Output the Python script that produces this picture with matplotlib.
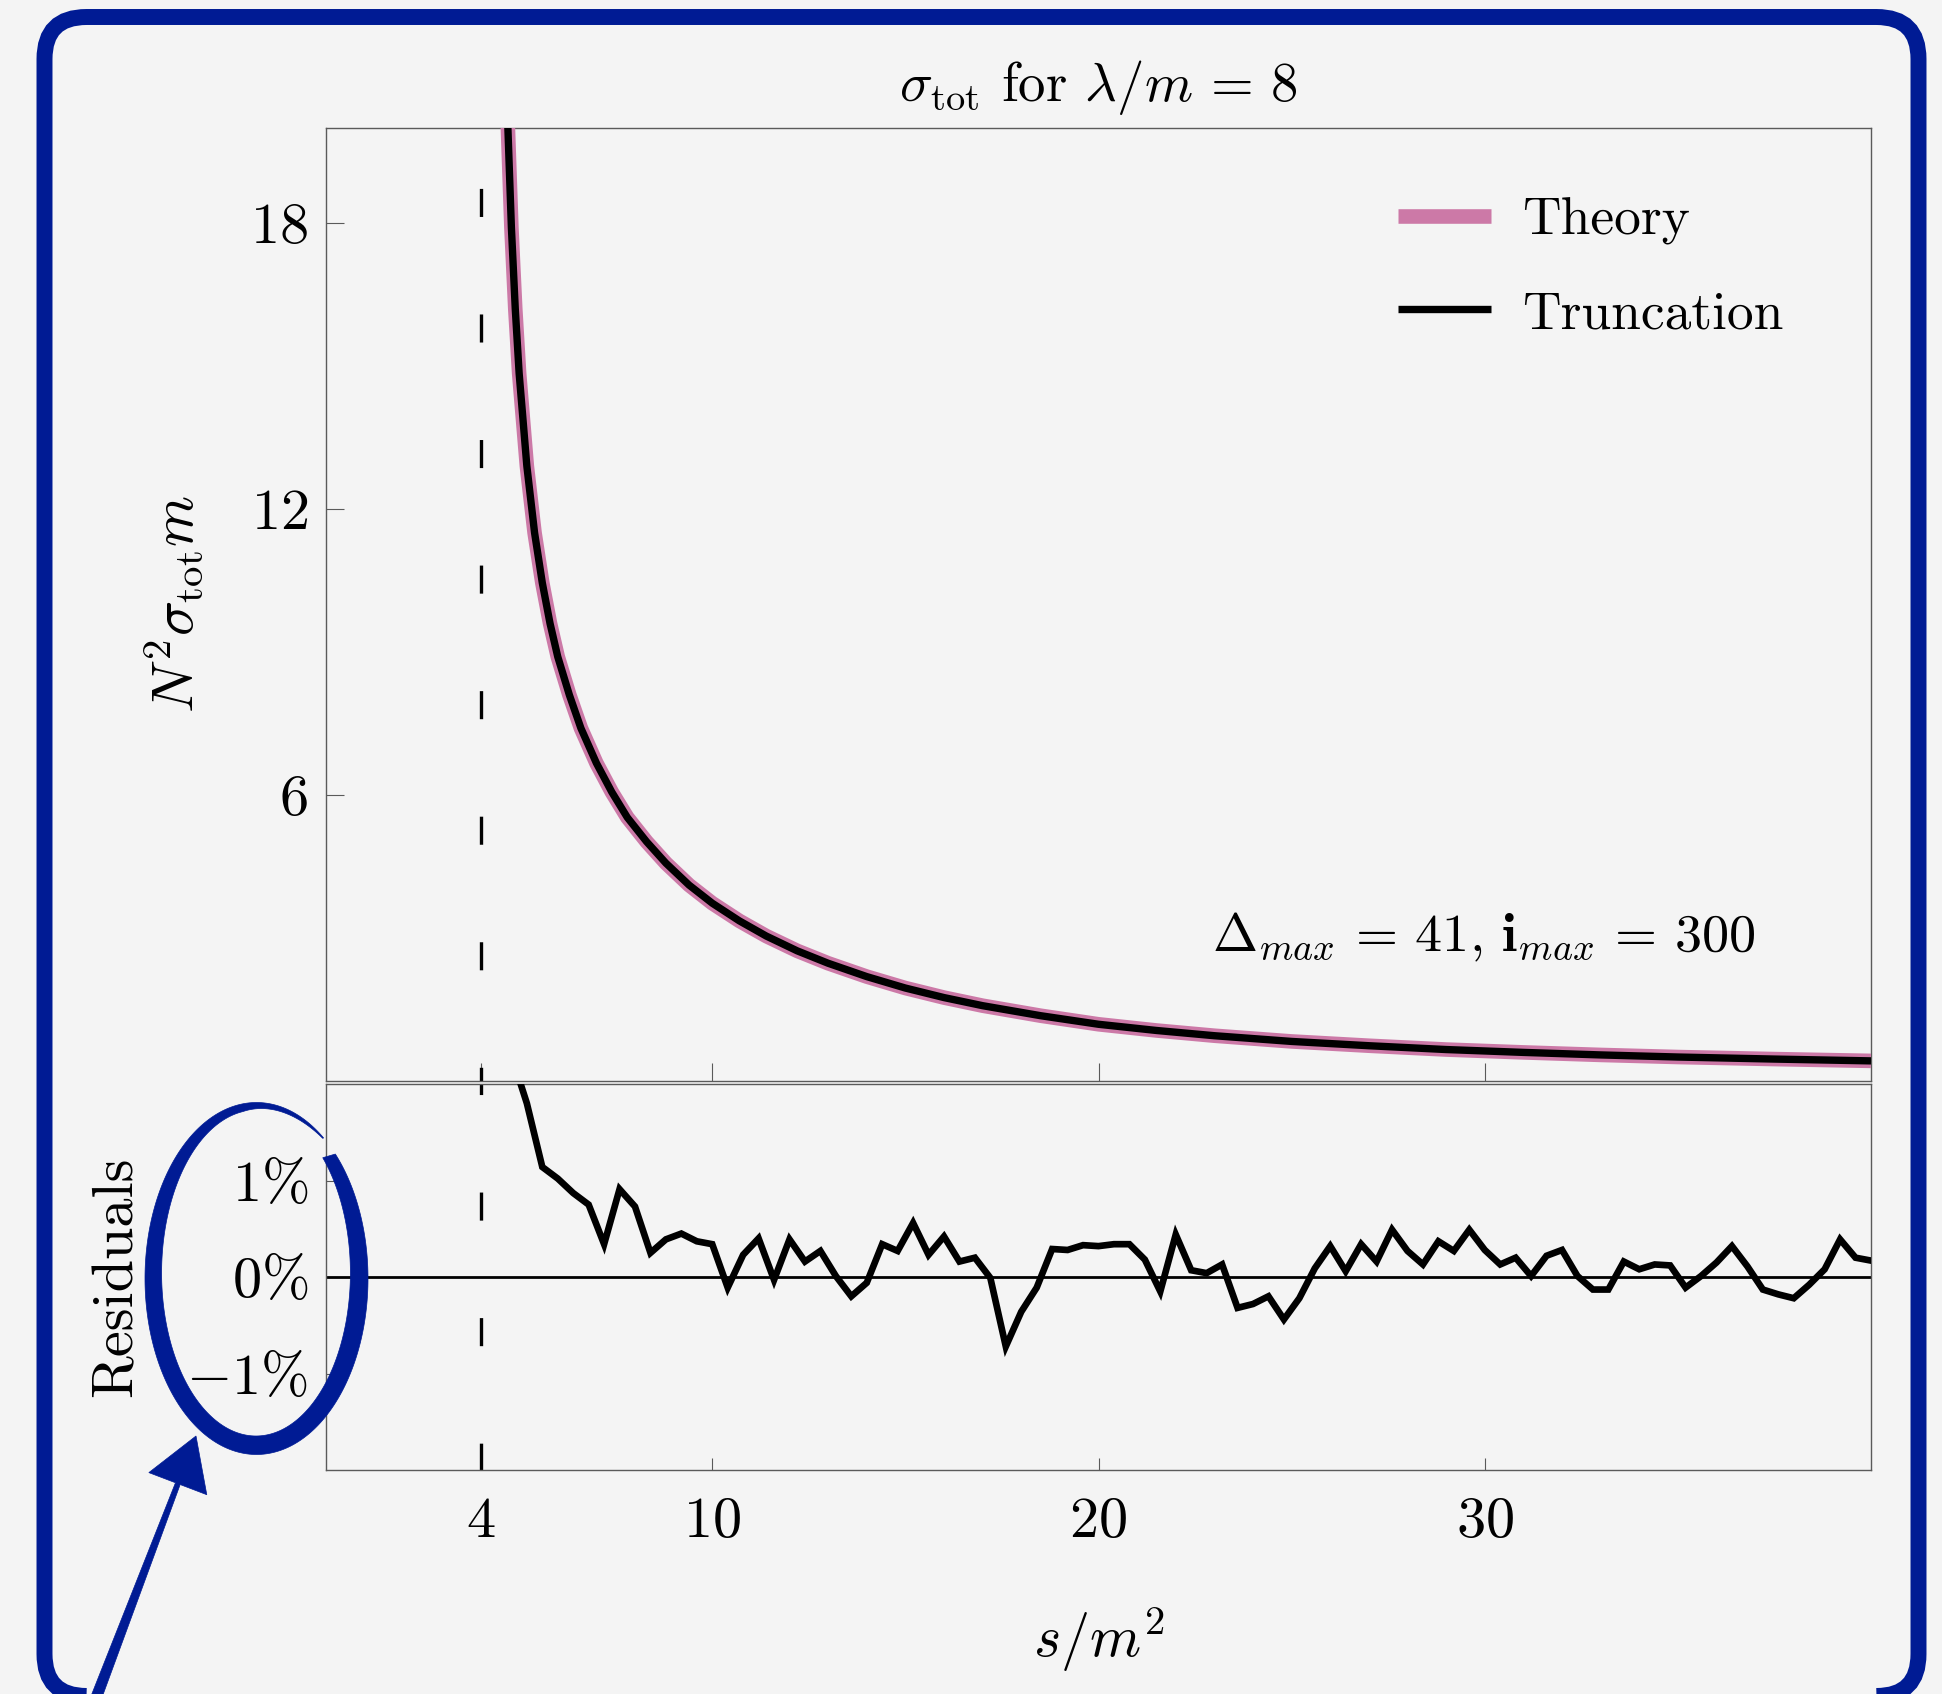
import numpy as np
import matplotlib
matplotlib.use("Agg")
import matplotlib.pyplot as plt
from matplotlib.patches import FancyBboxPatch, Polygon

plt.rcParams['font.family'] = ['cmr10', 'DejaVu Serif']
plt.rcParams['mathtext.fontset'] = 'cm'
plt.rcParams['axes.unicode_minus'] = False
plt.rcParams['axes.formatter.use_mathtext'] = True
plt.rcParams['lines.scale_dashes'] = False

# ---------------- data ----------------
theory_s = [4.6, 4.7, 4.8, 4.9, 5.0, 5.2, 5.4, 5.6, 5.8, 6.0, 6.3, 6.6, 7.0,
            7.4, 7.8, 8.3, 8.8, 9.4, 10.0, 10.7, 11.4, 12.2, 13.0, 14.0, 15.0,
            16.0, 17.0, 18.5, 20.0, 21.5, 23.0, 25.0, 27.0, 29.0, 31.0, 33.0,
            35.0, 37.5, 40.0]
theory_v = [23.3, 20.2, 17.9, 16.2, 14.85, 12.9, 11.5, 10.45, 9.6, 8.9, 8.1,
            7.4, 6.67, 6.06, 5.53, 5.02, 4.57, 4.11, 3.73, 3.36, 3.04, 2.73,
            2.47, 2.19, 1.95, 1.75, 1.58, 1.37, 1.19, 1.06, 0.95, 0.83, 0.74,
            0.66, 0.60, 0.547, 0.503, 0.460, 0.422]
# truncation coincides with theory within the line width in the upper panel
trunc_s = theory_s
trunc_v = theory_v

res_s = np.round(np.arange(4.8, 40.01, 0.4), 1)
res_pct = [2.3, 1.80, 1.14, 1.02, 0.87, 0.75, 0.34, 0.91, 0.73, 0.25, 0.39, 0.45,
           0.37, 0.34,
           -0.11, 0.23, 0.40, -0.03, 0.39, 0.16, 0.27, 0.01, -0.20, -0.06, 0.34,
           0.27, 0.56, 0.23, 0.42, 0.16, 0.20, -0.01, -0.72, -0.36, -0.11, 0.29,
           0.28, 0.33, 0.32,
           0.34, 0.34, 0.18, -0.15, 0.44, 0.07, 0.04, 0.13, -0.32, -0.28, -0.20,
           -0.44, -0.22, 0.09, 0.32, 0.06, 0.34, 0.16, 0.49, 0.27, 0.13, 0.37,
           0.27, 0.49, 0.28,
           0.13, 0.20, 0.01, 0.22, 0.28, 0.01, -0.13, -0.13, 0.16, 0.08, 0.13,
           0.12, -0.11, 0.01, 0.15, 0.32, 0.11, -0.13, -0.18, -0.22, -0.08,
           0.08, 0.39, 0.20, 0.17]

threshold = 4
top_yticks = [6, 12, 18]
res_yticks = [-1, 0, 1]
res_ylabels = [r'$-1\%$', r'$0\%$', r'$1\%$']
xticks = [4, 10, 20, 30]
xticklabels = [r'$4$', r'$10$', r'$20$', r'$30$']

# ---------------- styling ----------------
BG = '#f4f4f4'
PINK = '#cc79a7'
BLUE = '#001b94'
SPINE = '#5a5a5a'

W, H, DPI = 1942, 1694, 100
fig = plt.figure(figsize=(W / DPI, H / DPI), dpi=DPI, facecolor=BG)


def ax_rect(left, right, top, bottom):
    return [left / W, (H - bottom) / H, (right - left) / W, (bottom - top) / H]


ax1 = fig.add_axes(ax_rect(326, 1871, 127.6, 1081))
ax2 = fig.add_axes(ax_rect(326, 1871, 1084, 1470))

for ax in (ax1, ax2):
    ax.set_facecolor(BG)
    for sp in ax.spines.values():
        sp.set_color(SPINE)
        sp.set_linewidth(1.0)
    ax.set_xlim(0, 40)

# upper panel
ax1.set_ylim(0, 20)
l_th, = ax1.plot(theory_s, theory_v, color=PINK, lw=10.5, solid_capstyle='butt',
                 label='Theory', zorder=3)
l_tr, = ax1.plot(trunc_s, trunc_v, color='black', lw=5.3, solid_capstyle='butt',
                 label='Truncation', zorder=4)
ax1.plot([threshold, threshold], [20, 0], color='black', lw=2.4,
         linestyle=(46.9, (20.2, 70.2)), zorder=2)
ax1.set_yticks(top_yticks)
ax1.set_yticklabels([r'$%d$' % t for t in top_yticks])
ax1.set_xticks(xticks)
ax1.set_xticklabels([])
ax1.tick_params(axis='both', direction='in', length=13, width=0.8, color=SPINE,
                labelsize=42, pad=13, top=False, right=False)
ax1.set_title(r'$\sigma_{\mathrm{tot}}$ for $\lambda/m\,=\,8$', fontsize=39.5, pad=19)
ax1.set_ylabel(r'$N^2\sigma_{\mathrm{tot}}m$', fontsize=42)
ax1.yaxis.set_label_coords(-0.078, 0.5)
ax1.text(37.0, 2.71, r'$\Delta_{max}\,=\,41,\, \mathbf{i}_{max}\,=\,300$',
         fontsize=39, ha='right', va='baseline')
ax1.legend(handles=[l_th, l_tr], loc='upper left', bbox_to_anchor=(0.6939, 0.927),
           frameon=False, fontsize=38.5, handlelength=1.74, handletextpad=0.58,
           labelspacing=0.85, borderpad=0, borderaxespad=0)

# lower panel
ax2.set_ylim(-2, 2)
ax2.axhline(0, color='black', lw=2, zorder=2)
ax2.plot(res_s, res_pct, color='black', lw=4.8, solid_joinstyle='miter', zorder=4)
ax2.plot([threshold, threshold], [2, -2], color='black', lw=2.4,
         linestyle=(12.6, (20.2, 70.2)), zorder=2)
ax2.set_yticks(res_yticks)
ax2.set_yticklabels(res_ylabels)
ax2.set_xticks(xticks)
ax2.set_xticklabels(xticklabels)
ax2.tick_params(axis='both', direction='in', length=8.6, width=0.8, color=SPINE,
                labelsize=42, top=False, right=False)
ax2.tick_params(axis='y', pad=13)
ax2.tick_params(axis='x', pad=19)
ax2.set_ylabel('Residuals', fontsize=42)
ax2.yaxis.set_label_coords(-0.119, 0.5)
ax2.set_xlabel(r'$s/m^2$', fontsize=42)
ax2.xaxis.set_label_coords(0.5, -0.352)

# ---------------- hand-drawn annotations (pixel layout) ----------------
T = fig.dpi_scale_trans


def px(x, y):
    return (x / DPI, (H - y) / DPI)


# rounded frame
x0, y0 = px(44.5, 1696)
x1, y1 = px(1918.5, 17)
frame = FancyBboxPatch((x0, y0), x1 - x0, y1 - y0,
                       boxstyle='round,pad=0,rounding_size=0.42',
                       linewidth=11.5, edgecolor=BLUE, facecolor='none',
                       transform=T, zorder=10)
fig.add_artist(frame)

# ellipse stroke around the residual tick labels
t = np.radians(np.linspace(45, 45 - 352, 400))
taper = np.clip((t - np.radians(45 - 352)) / np.radians(45), 0, 1)
cxo, cyo, ao, bo = 256.5, 1278.5, 111.5, 176.0
cxi, cyi, ai, bi = 256.0, 1273.0, 94.4, 163.0
ox = cxo + ao * np.cos(t)
oy = cyo - bo * np.sin(t)
ix = cxi + ai * np.cos(t)
iy = cyi - bi * np.sin(t)
ix = ox + (ix - ox) * (0.08 + 0.92 * taper)
iy = oy + (iy - oy) * (0.08 + 0.92 * taper)
xs = np.concatenate([ox, ix[::-1]])
ys = np.concatenate([oy, iy[::-1]])
verts = [px(a, b) for a, b in zip(xs, ys)]
ell = Polygon(verts, closed=True, facecolor=BLUE, edgecolor=BLUE, lw=0.5,
              transform=T, zorder=11)
fig.add_artist(ell)

# arrow
S = np.array(px(93, 1706))
Tp = np.array(px(196, 1436))
u = (Tp - S) / np.linalg.norm(Tp - S)
n = np.array([-u[1], u[0]])
head_len, head_w = 0.51, 0.62
w0, w1 = 0.11, 0.05
B = Tp - u * head_len
arrow_pts = [S + n * w0 / 2, B + n * w1 / 2, B + n * head_w / 2,
             Tp, B - n * head_w / 2, B - n * w1 / 2, S - n * w0 / 2]
arrow = Polygon(arrow_pts, closed=True, facecolor=BLUE, edgecolor=BLUE, lw=0.5,
                transform=T, zorder=11)
fig.add_artist(arrow)

fig.savefig('out.png', dpi=DPI, facecolor=BG)
